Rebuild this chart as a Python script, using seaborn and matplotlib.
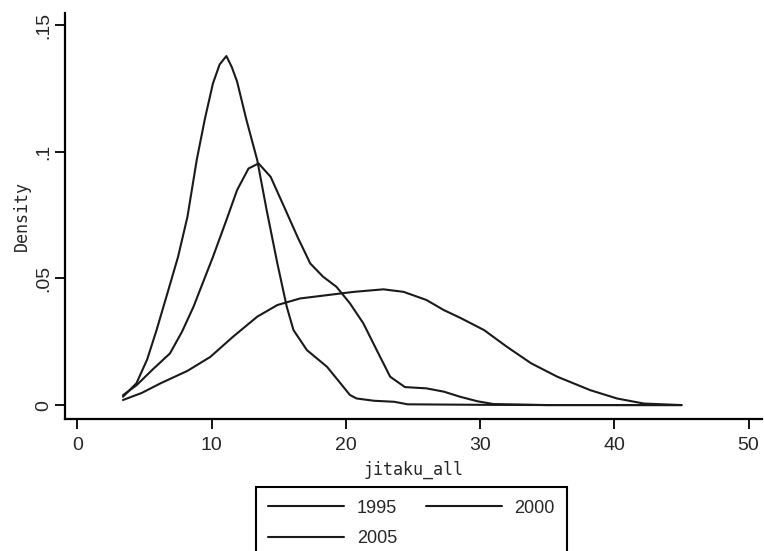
import matplotlib
matplotlib.use('Agg')
import pandas as pd
from matplotlib import pyplot as plt
import seaborn as sns
import numpy as np

# kernel density curves
x1995 = [3.4, 4.4, 5.2, 5.9, 6.7, 7.5, 8.2, 8.9, 9.5, 10.1, 10.6, 11.1, 11.5, 11.9, 12.6, 13.4, 14.1, 14.9,
         15.6, 16.1, 17.1, 18.6, 19.6, 20.3, 20.8, 22.1, 23.6, 24.6, 30.0, 35.0, 40.0, 45.0]
d1995 = [0.0033, 0.0086, 0.018, 0.0296, 0.044, 0.0585, 0.0743, 0.097, 0.113, 0.127, 0.1345, 0.1378, 0.1335,
         0.1277, 0.1125, 0.0967, 0.077, 0.0559, 0.0388, 0.0296, 0.0217, 0.0151, 0.0086, 0.004, 0.0026, 0.0017,
         0.0013, 0.0003, 0.0001, 0.0, 0.0, 0.0]

x2000 = [3.4, 4.4, 5.6, 6.9, 7.8, 8.65, 10.1, 11.1, 11.9, 12.75, 13.5, 14.4, 15.4, 16.4, 17.35, 18.3, 19.3,
         20.3, 21.3, 22.3, 23.3, 24.4, 26.0, 27.3, 28.5, 29.8, 31.0, 35.0, 40.0, 45.0]
d2000 = [0.0039, 0.0078, 0.014, 0.0204, 0.029, 0.0388, 0.0585, 0.073, 0.0849, 0.0934, 0.0954, 0.0901,
         0.0783, 0.0664, 0.0559, 0.0507, 0.0467, 0.0402, 0.0323, 0.0217, 0.0112, 0.0071, 0.0066, 0.0053,
         0.0033, 0.0015, 0.0004, 0.0, 0.0, 0.0]

x2005 = [3.4, 4.8, 6.2, 8.2, 9.9, 11.6, 13.4, 14.9, 16.6, 18.6, 20.6, 22.8, 24.3, 26.0, 27.3, 28.5, 30.3,
         32.0, 33.8, 35.75, 38.2, 40.2, 42.2, 45.0]
d2005 = [0.002, 0.0048, 0.0086, 0.0135, 0.019, 0.027, 0.0349, 0.0395, 0.0421, 0.0434, 0.0447, 0.0457,
         0.0447, 0.0415, 0.0375, 0.0345, 0.0296, 0.023, 0.0165, 0.0112, 0.0059, 0.0026, 0.0006, 0.0]

years = ['1995', '2000', '2005']
yticks = [0, 0.05, 0.1, 0.15]
ytickLabels = ['0', '.05', '.1', '.15']
xticks = [0, 10, 20, 30, 40, 50]

df = pd.concat([
    pd.DataFrame({'jitaku_all': x1995, 'Density': d1995, 'year': '1995'}),
    pd.DataFrame({'jitaku_all': x2000, 'Density': d2000, 'year': '2000'}),
    pd.DataFrame({'jitaku_all': x2005, 'Density': d2005, 'year': '2005'}),
], ignore_index=True)

sns.set_style('white')
plt.rcParams['font.family'] = ['Liberation Sans', 'DejaVu Sans']

fig = plt.figure(figsize=(7.64, 5.51), dpi=100)
ax = fig.add_axes([65 / 764, 1 - 419 / 551, 697 / 764, 406 / 551])

sns.lineplot(ax=ax, data=df, x='jitaku_all', y='Density', hue='year', hue_order=years,
             palette=['#1a1a1a'] * 3, estimator=None, sort=False, linewidth=1.5, legend=False)

ax.set_xlim(-0.92, 51.0)
ax.set_ylim(-0.0055, 0.1548)
ax.set_xticks(xticks)
ax.set_yticks(yticks)
ax.set_yticklabels(ytickLabels, rotation=90, va='center')
ax.tick_params(axis='both', length=7, width=1.3, color='black', labelsize=14, direction='out')
ax.tick_params(axis='x', pad=6, bottom=True)
ax.tick_params(axis='y', pad=2, left=True)

for side in ['top', 'right']:
    ax.spines[side].set_visible(False)
for side in ['left', 'bottom']:
    ax.spines[side].set_linewidth(1.6)
    ax.spines[side].set_color('black')

ax.set_xlabel('jitaku_all', family='DejaVu Sans Mono', fontsize=12, labelpad=5)
ax.set_ylabel('Density', family='DejaVu Sans Mono', fontsize=12, labelpad=3)

# matplotlib fills columns first, so order handles to get 1995 2000 / 2005 in rows
lines = ax.get_lines()[:3]
order = [0, 2, 1]
leg = ax.legend(handles=[lines[i] for i in order], labels=[years[i] for i in order], ncol=2,
                loc='upper center', bbox_to_anchor=(411.5 / 764, 1 - 487 / 551),
                bbox_transform=fig.transFigure, borderaxespad=0,
                fontsize=13, handlelength=4.2, handletextpad=0.7, columnspacing=1.6,
                borderpad=0.7, labelspacing=0.75, fancybox=False, framealpha=1, edgecolor='black')
leg.get_frame().set_linewidth(1.5)

fig.savefig('out.png', dpi=100)
plt.close()
